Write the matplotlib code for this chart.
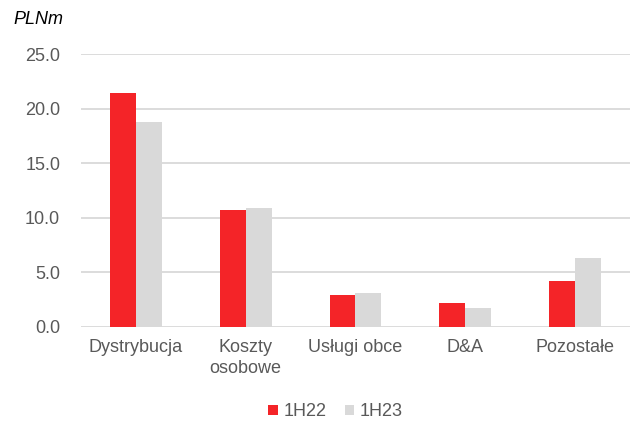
import matplotlib
matplotlib.use("Agg")
import matplotlib.pyplot as plt
import numpy as np

categories = ["Dystrybucja", "Koszty\nosobowe", "Usługi obce", "D&A", "Pozostałe"]
series_names = ["1H22", "1H23"]
values_1h22 = [21.4, 10.7, 2.9, 2.2, 4.2]
values_1h23 = [18.8, 10.9, 3.1, 1.7, 6.3]
yticks = [0, 5, 10, 15, 20, 25]

plt.rcParams['font.family'] = ['Liberation Sans', 'DejaVu Sans']

fig = plt.figure(figsize=(6.33, 4.26), dpi=100)
ax = fig.add_axes([0.128, 0.2324, 0.867, 0.6406])

x = np.arange(len(categories))
w = 0.236
red = "#f42428"
grey = "#d9d9d9"
ax.bar(x - w/2, values_1h22, width=w, color=red, label=series_names[0], zorder=3)
ax.bar(x + w/2, values_1h23, width=w, color=grey, label=series_names[1], zorder=3)

ax.set_xlim(-0.5, len(categories) - 0.5)
ax.set_ylim(0, 25)
ax.set_yticks(yticks)
ax.set_yticklabels([f"{v:.1f}" for v in yticks])
ax.yaxis.grid(True, color="#d9d9d9", linewidth=1.3, zorder=0)
ax.set_axisbelow(True)
for s in ax.spines.values():
    s.set_visible(False)
ax.tick_params(axis='y', length=0, pad=15, labelsize=13, labelcolor="#595959")
ax.set_xticks(x)
ax.set_xticklabels(categories)
ax.tick_params(axis='x', length=0, pad=9, labelsize=13, labelcolor="#595959")
for lbl in ax.get_xticklabels():
    lbl.set_linespacing(1.25)

fig.text(0.022, 0.955, "PLNm", fontsize=13, style='italic', color="black", va='center')

leg = fig.legend(loc='center', bbox_to_anchor=(0.53, 0.033), ncol=2, frameon=False,
                 fontsize=13, handlelength=0.55, handleheight=0.55, handletextpad=0.3,
                 columnspacing=1.0, labelcolor="#595959")

fig.savefig("out.png", dpi=100)
